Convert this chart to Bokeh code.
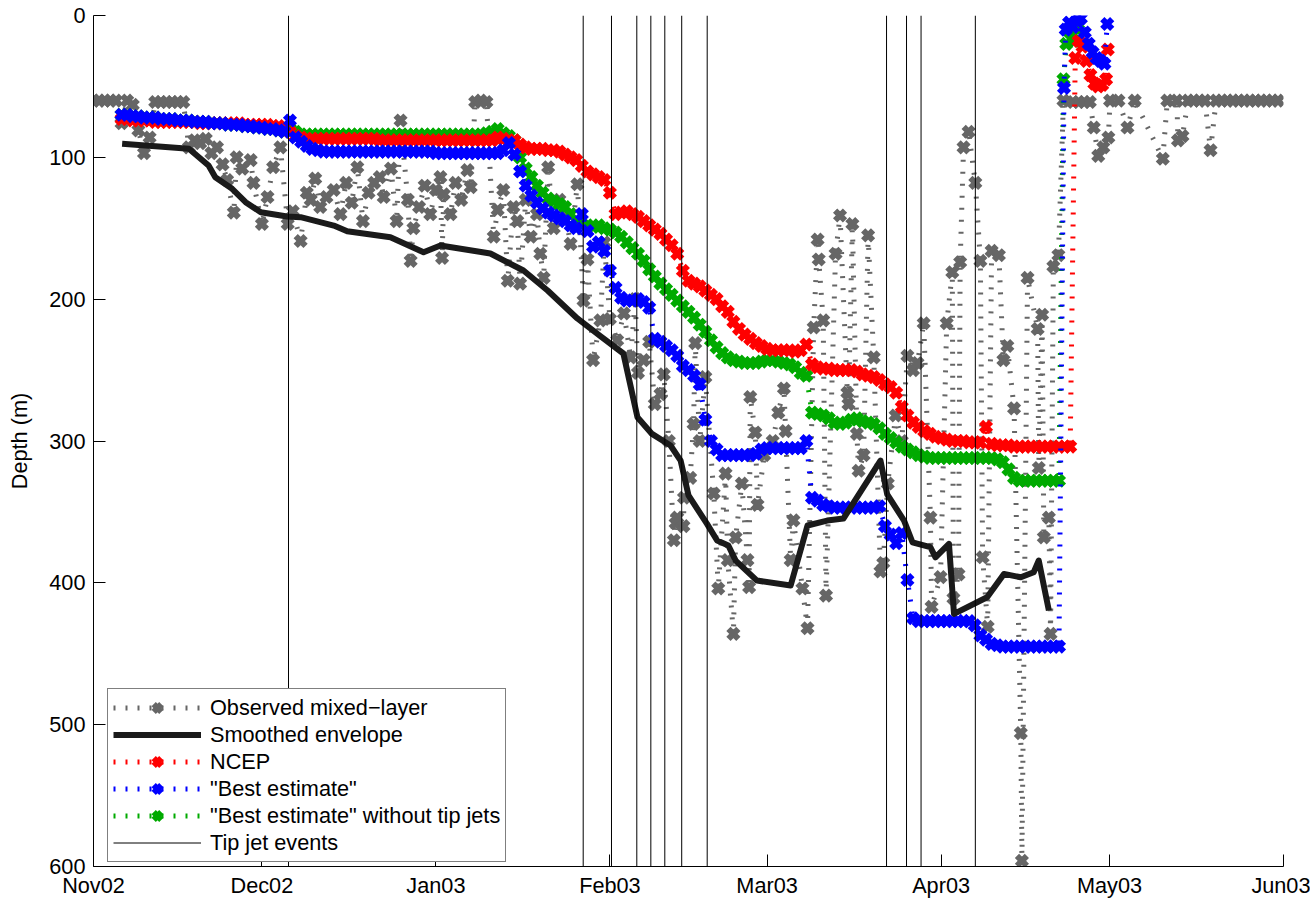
from bokeh.plotting import figure
from bokeh.models import Range1d, FixedTicker, Legend, LegendItem
from bokeh.embed import file_html
from bokeh.resources import INLINE

# ---------------- axes ----------------
month_ticks = [0, 30, 61, 92, 120, 151, 181, 212]          # days since 1 Nov 2002
month_labels = ["Nov02", "Dec02", "Jan03", "Feb03", "Mar03", "Apr03", "May03", "Jun03"]
depth_ticks = [0, 100, 200, 300, 400, 500, 600]

# ---------------- tip jet events (days since 1 Nov 2002) ----------------
tip_days = [34.74, 87.24, 92.28, 96.79, 99.29, 101.78, 104.79, 109.33,
            141.28, 144.84, 147.43, 157.1]

# ---------------- smoothed envelope ----------------
env_day = [5.1, 17.0, 20.5, 21.7, 24.7, 27.1, 29.8, 34.5, 36.9, 42.8, 45.2, 52.9,
           58.8, 61.8, 70.7, 76.6, 80.9, 86.2, 90.3, 94.4, 96.9, 99.5, 102.8, 104.6,
           106.0, 109.3, 111.1, 113.1, 114.4, 118.2, 124.2, 127.2, 130.7, 133.6,
           140.2, 141.4, 144.4, 145.9, 149.1, 150.0, 152.4, 153.3, 159.2, 162.2,
           165.2, 167.5, 168.4, 170.2]
env_depth = [90.5, 94.0, 105.8, 114.0, 122.2, 131.6, 138.7, 141.7, 142.2, 148.1, 152.1, 156.3,
             166.9, 162.2, 167.8, 179.8, 193.9, 213.6, 226.0, 238.3, 283.2, 295.0, 303.2, 313.8,
             338.4, 358.4, 370.2, 373.7, 384.3, 398.4, 401.9, 359.6, 356.1, 354.7,
             313.8, 337.7, 356.1, 371.4, 374.9, 382.0, 372.5, 421.9, 410.2, 393.7,
             396.1, 392.5, 384.3, 419.5]

# ---------------- NCEP (daily from day 5) ----------------
ncep_day = list(range(5, 175)) + [174.9, 175.5, 176.2, 176.9, 177.6, 178.3, 179.0, 179.7, 180.4, 180.7]
ncep_depth = [
    73, 73, 74, 74, 74, 74,
    75, 75, 75, 75, 75, 75, 75, 75, 76, 76,
    76, 76, 76, 76, 76, 76, 77, 77, 77, 77,
    77, 78, 78, 79,
    82, 85, 86, 87, 87, 87,
    87, 87, 87, 87, 87, 87, 87, 87, 87, 87,
    88, 88, 88, 88, 88, 88, 88, 88, 88, 88,
    88, 88, 88, 88, 88, 88, 88, 88, 88, 88,
    88, 86, 87, 88, 88, 91, 93, 94, 94, 94,
    95, 95, 96, 98, 100, 102, 106, 110, 112, 114,
    116, 125, 140, 139, 138, 140, 142, 145, 148, 151,
    154, 158, 162, 168, 180, 187, 189, 191, 194, 197,
    200, 205, 209, 216, 221, 225, 228, 231, 233, 235,
    236, 236, 236, 236, 237, 236, 232, 246, 248, 249,
    249, 250, 250, 250, 250, 251, 253, 254, 255, 257,
    260, 262, 266, 276, 282, 287, 290, 293, 295, 297,
    298, 299, 300, 300, 300, 301, 301, 301, 290, 302,
    303, 303, 303, 304, 304, 304, 304, 304, 304, 304,
    304, 304, 304, 304,
    30, 18, 22, 32, 42, 48, 50, 49, 45, 24]

# ---------------- "Best estimate" ----------------
best_day = list(range(5, 173)) + [172.9, 173.2, 173.8, 174.5, 175.2, 175.9, 176.6, 177.3,
                                  178.0, 178.7, 179.4, 180.1, 180.6]
best_depth = [
    70, 70, 71, 71, 72, 72,
    72, 73, 73, 73, 74, 74, 74, 75, 75, 75,
    76, 76, 76, 77, 77, 77, 78, 78, 79, 79,
    80, 80, 81, 82,
    74, 86, 89, 92, 94, 95,
    96, 96, 96, 96, 96, 96, 96, 96, 96, 96,
    96, 96, 96, 96, 96, 96, 96, 96, 96, 96,
    97, 97, 97, 97, 97, 97, 97, 97, 97, 97,
    97, 97, 95, 90, 98, 110, 120, 127, 132, 136,
    139, 141, 143, 145, 148, 150, 140, 152, 163, 160,
    166, 180, 192, 199, 201, 201, 200, 202, 206, 228,
    230, 233, 236, 240, 247, 250, 254, 260, 285, 300,
    306, 310, 310, 310, 310, 310, 310, 309, 306, 305,
    305, 305, 305, 305, 305, 305, 300, 340, 342, 345,
    346, 347, 347, 347, 347, 347, 347, 347, 347, 346,
    360, 366, 372, 365, 398, 425, 427, 427, 427, 427,
    427, 427, 427, 427, 427, 427, 430, 437, 440, 443,
    444, 445, 445, 445, 445, 445, 445, 445, 445, 445,
    445, 445,
    51, 10, 5, 8, 4, 2, 12, 20, 26, 30, 32, 34, 6]

# ---------------- "Best estimate" without tip jets ----------------
notip_day = list(range(5, 173)) + [172.8, 173.3, 174.0, 174.7, 175.4]
notip_depth = [
    70, 70, 71, 71, 72, 72,
    72, 73, 73, 73, 74, 74, 74, 75, 75, 75,
    76, 76, 76, 77, 77, 77, 78, 78, 79, 79,
    80, 80, 81, 82,
    80, 82, 84, 84, 84, 84,
    84, 84, 84, 84, 84, 84, 84, 84, 84, 84,
    84, 84, 84, 84, 84, 84, 84, 84, 84, 84,
    84, 84, 84, 84, 84, 84, 84, 84, 84, 83,
    82, 80, 83, 85, 88, 100, 108, 114, 120, 125,
    129, 131, 133, 135, 140, 145, 147, 148, 149, 148,
    150, 151, 153, 156, 160, 164, 168, 173, 179, 184,
    189, 193, 197, 201, 205, 209, 213, 218, 223, 229,
    234, 238, 241, 243, 244, 245, 245, 245, 244, 243,
    243, 244, 245, 246, 248, 252, 254, 280, 281, 282,
    284, 287, 288, 287, 285, 284, 286, 287, 288, 291,
    295, 298, 301, 304, 306, 308, 310, 311, 312, 312,
    312, 312, 312, 312, 312, 312, 312, 312, 312, 312,
    313, 315, 320, 326, 328, 328, 328, 328, 328, 328,
    328, 328,
    45, 20, 12, 18, 10]

# ---------------- observed mixed-layer depth ----------------
obs_day = [0, 1, 2, 3, 4, 5, 6, 7, 8, 9, 10, 11, 12, 13, 14, 15, 16, 17, 18, 19, 20,
           21, 22, 23, 23.8, 25, 25.5, 26.5, 28, 28.5, 30, 31, 32, 33.3, 34.6, 35.5, 36.9,
           38, 38.7, 39.5, 40.4, 41.5, 42.8, 44, 45, 46, 47, 48, 49, 50, 51, 51.7, 53, 54,
           54.7, 56, 56.5, 57, 58, 59, 60, 61, 61.8, 62.1, 62.4, 63.6, 64.5, 65.5, 66.6,
           67.2, 68, 69, 70, 71.3, 72, 73, 73.8, 74.8, 75.5, 76, 77, 77.9, 79, 79.6, 80.2,
           81, 82, 83, 84, 85, 86.2, 87.3, 88, 89, 90.3, 91, 92, 93.3, 94.5, 95.7, 96.5,
           97, 98, 99, 100, 101, 101.6, 102.5, 103.4, 103.7, 104, 105.1, 105.2, 106.3,
           106.9, 107.2, 108, 109, 110.5, 111.3, 112.6, 113, 114, 114.4, 115.5, 116.5,
           116.8, 117, 117.9, 118.3, 119.5, 121, 122, 123, 123.3, 124.2, 124.7, 126.3,
           127.2, 128.3, 129, 129.2, 130, 130.5, 132.2, 133, 134.3, 134.5, 135.2, 136,
           136.3, 137.2, 138, 139, 140.2, 140.7, 141.5, 142.9, 144, 145, 146, 146.8, 147.9,
           149.1, 149.3, 150.9, 152, 153, 153.2, 154.1, 154.4, 155, 155.9, 157.1, 158,
           158.4, 159.3, 160, 161.3, 162.1, 162.8, 164, 165.2, 165.4, 166.4, 168.2, 168.4,
           169, 169.3, 170.2, 170.5, 171, 171.9, 172.8, 174.5, 175.5, 176.5, 177.5, 178.2,
           179, 179.9, 180.8, 181.1, 182.6, 184.2, 185.5, 190.5, 191.3, 193, 193.2, 194,
           195, 196, 197, 198, 199, 200, 201, 202, 203, 204, 205, 206, 207, 208, 209, 210, 211]
obs_depth = [60, 60, 60, 60, 60, 76, 60, 63, 81, 97, 86, 61, 61, 61, 61, 61, 61, 93, 88, 90, 87,
             97, 93, 105, 116, 139, 100, 108, 102, 118, 147, 128, 107, 93, 147, 138, 159,
             125, 130, 115, 135, 128, 123, 140, 118, 132, 107, 145, 125, 118, 114, 128, 108, 145,
             74, 130, 173, 150, 135, 120, 140, 123, 114, 171, 126, 140, 118, 130, 109,
             121, 61, 60, 61, 156, 137, 123, 187, 135, 145, 189, 130, 156, 140, 168, 185,
             107, 150, 130, 140, 161, 119, 201, 172, 243, 215, 160, 214, 229, 210, 241, 200,
             252, 243, 230, 274, 267, 253, 300, 370, 358, 354, 360, 340, 326,
             288, 231, 300, 255, 337, 404, 323, 384, 436, 368, 330, 384,
             403, 269, 294, 345, 310, 300, 280, 263, 293, 384, 356, 404,
             432, 220, 158, 172, 215, 409, 168, 141, 266, 274, 147, 295,
             321, 310, 155, 241, 392, 386, 330, 282, 300, 240, 250, 245, 217,
             354, 417, 396, 217, 181, 411, 394, 174, 93, 82, 118, 173,
             382, 431, 166, 169, 243, 233, 277, 506, 596, 185, 221, 319,
             211, 368, 354, 436, 177, 169, 60, 61, 61, 61, 61, 79,
             99, 93, 86, 60, 60, 79, 60, 101, 60, 60, 88, 85,
             60, 60, 60, 60, 95, 60, 60, 60, 60, 60, 60, 60, 60, 60, 60, 60, 60]

# ---------------- styles ----------------
FONT = "Liberation Sans"
FS = "21.7px"
GRAY = "#666666"
RED = "#ff0000"
BLUE = "#0000ff"
GREEN = "#00aa00"
DOT = dict(line_width=5, line_dash="2 10")
MK = dict(marker="x", size=14, line_width=6)

p = figure(width=1310, height=901,
           x_range=Range1d(month_ticks[0], month_ticks[-1]),
           y_range=Range1d(depth_ticks[-1], depth_ticks[0]),
           output_backend="svg", toolbar_location=None,
           min_border_left=93, min_border_right=27, min_border_top=15, min_border_bottom=35)
p.outline_line_color = None
p.xgrid.visible = False
p.ygrid.visible = False
p.background_fill_color = "white"
p.border_fill_color = "white"

# observed
obs_line = p.line(obs_day, obs_depth, line_color=GRAY, **DOT)
obs_sc = p.scatter(obs_day, obs_depth, line_color=GRAY, **MK)

# without tip jets
g_line = p.line(notip_day, notip_depth, line_color=GREEN, **DOT)
g_sc = p.scatter(notip_day, notip_depth, line_color=GREEN, **MK)

# NCEP
r_line = p.line(ncep_day, ncep_depth, line_color=RED, **DOT)
r_sc = p.scatter(ncep_day, ncep_depth, line_color=RED, **MK)

# best estimate
b_line = p.line(best_day, best_depth, line_color=BLUE, **DOT)
b_sc = p.scatter(best_day, best_depth, line_color=BLUE, **MK)

# smoothed envelope
env = p.line(env_day, env_depth, line_color="#1a1a1a", line_width=6, line_join="round")

# tip jets
tips = p.multi_line(xs=[[d, d] for d in tip_days],
                    ys=[[depth_ticks[0], depth_ticks[-1]] for _ in tip_days],
                    line_color="black", line_width=1)

# axes
p.xaxis.ticker = FixedTicker(ticks=month_ticks)
p.xaxis.major_label_overrides = {t: l for t, l in zip(month_ticks, month_labels)}
p.yaxis.ticker = FixedTicker(ticks=depth_ticks)
p.yaxis.axis_label = "Depth (m)"
for ax in (p.xaxis[0], p.yaxis[0]):
    ax.major_tick_in = 12
    ax.major_tick_out = 0
    ax.minor_tick_in = 0
    ax.minor_tick_out = 0
    ax.axis_line_color = "black"
    ax.major_tick_line_color = "black"
    ax.major_label_text_font = FONT
    ax.major_label_text_font_size = FS
    ax.major_label_text_color = "black"
    ax.axis_label_text_font = FONT
    ax.axis_label_text_font_size = FS
    ax.axis_label_text_font_style = "normal"
    ax.axis_label_text_color = "black"
p.xaxis.major_label_standoff = 6
p.yaxis.major_label_standoff = 8
p.yaxis.axis_label_standoff = 14

legend = Legend(items=[
    LegendItem(label="Observed mixed\u2212layer", renderers=[obs_line, obs_sc]),
    LegendItem(label="Smoothed envelope", renderers=[env]),
    LegendItem(label="NCEP", renderers=[r_line, r_sc]),
    LegendItem(label='"Best estimate"', renderers=[b_line, b_sc]),
    LegendItem(label='"Best estimate" without tip jets', renderers=[g_line, g_sc]),
    LegendItem(label="Tip jet events", renderers=[tips]),
], location=(14, 4))
legend.margin = 0
legend.padding = 5
legend.spacing = 0
legend.glyph_width = 88
legend.glyph_height = 27
legend.label_height = 27
legend.label_standoff = 9
legend.label_text_font = FONT
legend.label_text_font_size = FS
legend.label_text_color = "black"
legend.border_line_color = "black"
legend.border_line_width = 1
legend.background_fill_color = "white"
legend.background_fill_alpha = 1.0
p.add_layout(legend)

open("out.html", "w").write(file_html(p, INLINE))
